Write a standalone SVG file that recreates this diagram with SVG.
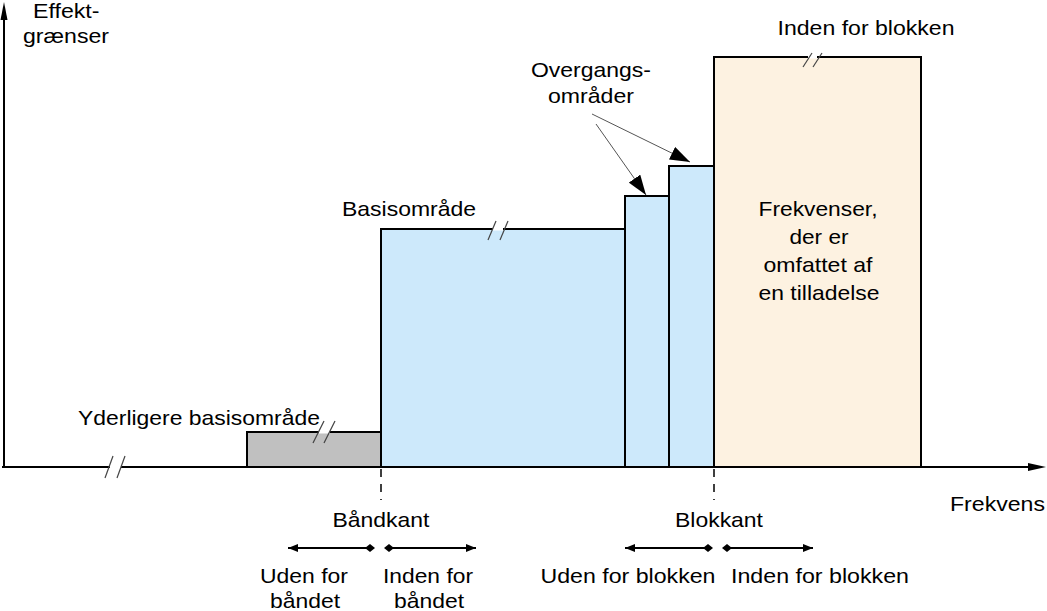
<svg xmlns="http://www.w3.org/2000/svg" width="1047" height="611" viewBox="0 0 1047 611">
<style>
text{font-family:"Liberation Sans",Arial,sans-serif;font-size:21px;fill:#000}
.m{text-anchor:middle}
.box{stroke:#000;stroke-width:2}
.blue{fill:#cde9fb}
.axis{stroke:#000;stroke-width:2;fill:none}
.slash{stroke:#444;stroke-width:1.2}
.gap{stroke:#fff;stroke-width:3}
.dash{stroke:#000;stroke-width:1.5;stroke-dasharray:8 7}
.ptr{stroke:#555;stroke-width:1}
.dim{stroke:#000;stroke-width:2}
</style>
<defs>
<marker id="ah" viewBox="0 0 10 8" refX="10" refY="4" markerWidth="10" markerHeight="8" markerUnits="userSpaceOnUse" orient="auto"><path d="M0,0L10,4L0,8z" fill="#000"/></marker>
<marker id="dm" viewBox="0 0 10 8" refX="5" refY="4" markerWidth="10" markerHeight="8" markerUnits="userSpaceOnUse" orient="auto"><path d="M0,4L5,0L10,4L5,8z" fill="#000"/></marker>
<marker id="big" viewBox="0 0 20 14" refX="20" refY="7" markerWidth="20" markerHeight="14" markerUnits="userSpaceOnUse" orient="auto"><path d="M0,0L20,7L0,14z" fill="#000"/></marker>
</defs>

<g id="gray-block">
<rect class="box" x="247" y="432" width="134" height="35" fill="#c0c0c0"/>
<line class="gap" x1="319" y1="432" x2="330" y2="432"/>
<line class="slash" x1="313" y1="443" x2="324" y2="421"/>
<line class="slash" x1="324" y1="443" x2="335" y2="421"/>
</g>
<g id="basis-block">
<rect class="box blue" x="381" y="229" width="244" height="238"/>
<line class="gap" x1="493" y1="229" x2="503" y2="229"/>
<line class="slash" x1="488" y1="240" x2="496" y2="221"/>
<line class="slash" x1="500" y1="240" x2="508" y2="221"/>
</g>
<g id="transition-1"><rect class="box blue" x="625" y="196" width="44" height="271"/></g>
<g id="transition-2"><rect class="box blue" x="669" y="166" width="45" height="301"/></g>
<g id="licensed-block">
<rect class="box" x="714" y="57" width="207" height="410" fill="#fdf2e1"/>
<line class="gap" x1="808" y1="57" x2="817" y2="57"/>
<line class="slash" x1="803" y1="67" x2="812" y2="53"/>
<line class="slash" x1="813" y1="67" x2="822" y2="53"/>
</g>

<g id="axes">
<line class="axis" x1="4" y1="468" x2="4" y2="16"/>
<path d="M4,2L0.5,20L7.5,20z" fill="#000"/>
<line class="axis" x1="2" y1="467" x2="1030" y2="467"/>
<path d="M1046,467L1028,463L1028,471z" fill="#000"/>
<line class="gap" x1="110" y1="467" x2="121" y2="467"/>
<line class="slash" x1="105" y1="478" x2="113" y2="456"/>
<line class="slash" x1="117" y1="478" x2="125" y2="456"/>
</g>

<g id="connectors">
<line class="dash" x1="381" y1="469" x2="381" y2="500"/>
<line class="dash" x1="714" y1="469" x2="714" y2="500"/>
<line class="ptr" x1="592" y1="114" x2="690" y2="162" marker-end="url(#big)"/>
<line class="ptr" x1="596" y1="124" x2="646" y2="195" marker-end="url(#big)"/>
<line class="dim" x1="370" y1="548" x2="288" y2="548" marker-start="url(#dm)" marker-end="url(#ah)"/>
<line class="dim" x1="389" y1="548" x2="476" y2="548" marker-start="url(#dm)" marker-end="url(#ah)"/>
<line class="dim" x1="708" y1="548" x2="625" y2="548" marker-start="url(#dm)" marker-end="url(#ah)"/>
<line class="dim" x1="727" y1="548" x2="813" y2="548" marker-start="url(#dm)" marker-end="url(#ah)"/>
</g>

<g id="labels">
<text x="33" y="18" textLength="66.5" lengthAdjust="spacingAndGlyphs">Effekt-</text>
<text x="23" y="43" textLength="86" lengthAdjust="spacingAndGlyphs">grænser</text>
<text class="m" x="866" y="35" textLength="177" lengthAdjust="spacingAndGlyphs">Inden for blokken</text>
<text class="m" x="591" y="77" textLength="120" lengthAdjust="spacingAndGlyphs">Overgangs-</text>
<text class="m" x="591" y="103" textLength="86" lengthAdjust="spacingAndGlyphs">områder</text>
<text x="342" y="216" textLength="134" lengthAdjust="spacingAndGlyphs">Basisområde</text>
<text x="78" y="425" textLength="242" lengthAdjust="spacingAndGlyphs">Yderligere basisområde</text>
<text class="m" x="818" y="216" textLength="119" lengthAdjust="spacingAndGlyphs">Frekvenser,</text>
<text class="m" x="819" y="244" textLength="59" lengthAdjust="spacingAndGlyphs">der er</text>
<text class="m" x="818" y="272" textLength="109" lengthAdjust="spacingAndGlyphs">omfattet af</text>
<text class="m" x="819" y="300" textLength="121" lengthAdjust="spacingAndGlyphs">en tilladelse</text>
<text x="950" y="511" textLength="95" lengthAdjust="spacingAndGlyphs">Frekvens</text>
<text class="m" x="381" y="527" textLength="97" lengthAdjust="spacingAndGlyphs">Båndkant</text>
<text class="m" x="719" y="527" textLength="88" lengthAdjust="spacingAndGlyphs">Blokkant</text>
<text class="m" x="304" y="583" textLength="88" lengthAdjust="spacingAndGlyphs">Uden for</text>
<text class="m" x="305" y="608" textLength="70" lengthAdjust="spacingAndGlyphs">båndet</text>
<text class="m" x="428" y="583" textLength="90" lengthAdjust="spacingAndGlyphs">Inden for</text>
<text class="m" x="429" y="608" textLength="70" lengthAdjust="spacingAndGlyphs">båndet</text>
<text class="m" x="628" y="583" textLength="175" lengthAdjust="spacingAndGlyphs">Uden for blokken</text>
<text class="m" x="820" y="583" textLength="178" lengthAdjust="spacingAndGlyphs">Inden for blokken</text>
</g>
</svg>
